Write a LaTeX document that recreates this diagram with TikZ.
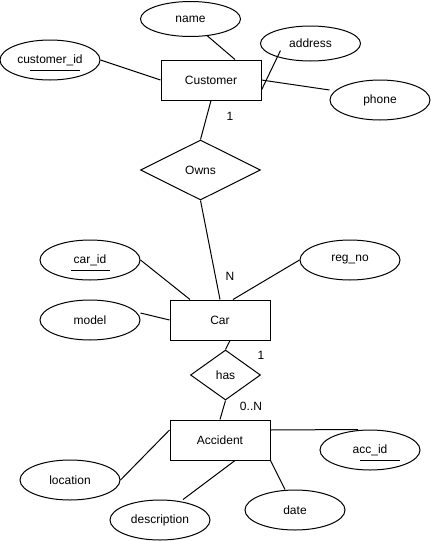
\documentclass[tikz,border=0pt]{standalone}
\usepackage{fontspec}
\setmainfont{Liberation Sans}
\usetikzlibrary{shapes.geometric}
\begin{document}
\begin{tikzpicture}[x=1pt,y=-1pt,
  line width=1pt,
  font=\fontsize{12pt}{14pt}\selectfont,
  entity/.style={draw,rectangle,minimum width=100pt,minimum height=40pt,inner sep=0pt},
  attr/.style={draw,ellipse,minimum width=100pt,minimum height=40pt,inner sep=0pt},
  relation/.style={draw,diamond,inner sep=0pt},
  card/.style={inner sep=0pt},
  link/.style={draw,line width=1pt},
  keyline/.style={line width=1pt}]
\useasboundingbox (0,0) rectangle (431,541);

% Customer entity and its attributes
\node[entity] (cust) at (211,80) {Customer};
\node[attr,minimum height=35pt] (name) at (190.5,19) {name};
\node[attr,minimum height=35pt] (addr) at (310.5,43.5) {address};
\node[attr] (cid) at (50,60) {customer\_id};
\node[attr] (phone) at (380,100) {phone};

% Owns relationship
\node[relation,minimum width=120pt,minimum height=60pt] (owns) at (200.5,170) {Owns};

% Car entity and its attributes
\node[entity] (car) at (220,320) {Car};
\node[attr] (carid) at (90,260) {car\_id};
\node[attr] (regno) at (350,260) {reg\_no};
\node[attr] (model) at (90,320) {model};

% has relationship
\node[relation,minimum width=70pt,minimum height=50pt] (has) at (225.5,375) {has};

% Accident entity and its attributes
\node[entity] (acc) at (220,440) {Accident};
\node[attr] (accid) at (370,450) {acc\_id};
\node[attr] (loc) at (70,480) {location};
\node[attr] (desc) at (160,520) {description};
\node[attr] (date) at (295,510) {date};

% key underlines
\draw[keyline] ([shift={(-20,10)}]cid.center) -- ([shift={(30,10)}]cid.center);
\draw[keyline] ([shift={(-19,10)}]carid.center) -- ([shift={(20,10)}]carid.center);
\draw[keyline] ([shift={(-10,10)}]accid.center) -- ([shift={(30,10)}]accid.center);

% attribute links
\draw[link] (name.-45) -- ([xshift=24pt]cust.north);
\draw[link] ([shift={(-30,7)}]addr.center) -- ([shift={(0,10)}]cust.east);
\draw[link] (cid.east) -- (cust.west);
\draw[link] (cust.east) -- ([shift={(0,-10)}]phone.west);

\draw[link] (carid.east) -- ([xshift=-30pt]car.north);
\draw[link] (regno.west) -- ([xshift=13pt]car.north);
\draw[link] ([shift={(0,-7)}]model.east) -- (car.west);

\draw[link] ([shift={(0,-10)}]acc.east) -- ([xshift=-12pt]accid.north);
\draw[link] (loc.east) -- ([shift={(0,-10)}]acc.west);
\draw[link] ([xshift=23pt]desc.north) -- ([xshift=15pt]acc.south);
\draw[link] ([xshift=-10pt]date.north) -- (acc.south east);

% relationship links
\draw[link] (cust.south) -- (owns.north);
\draw[link] (owns.south) -- (car.north);
\draw[link] ([xshift=10pt]car.south) -- (has.north);
\draw[link] (has.south) -- (acc.north);

% cardinalities
\node[card] (c1) at (230,116) {1};
\node[card] (cN) at (230,276) {N};
\node[card] (c2) at (261,355) {1};
\node[card] (c0N) at (251,406) {0..N};
\end{tikzpicture}
\end{document}
